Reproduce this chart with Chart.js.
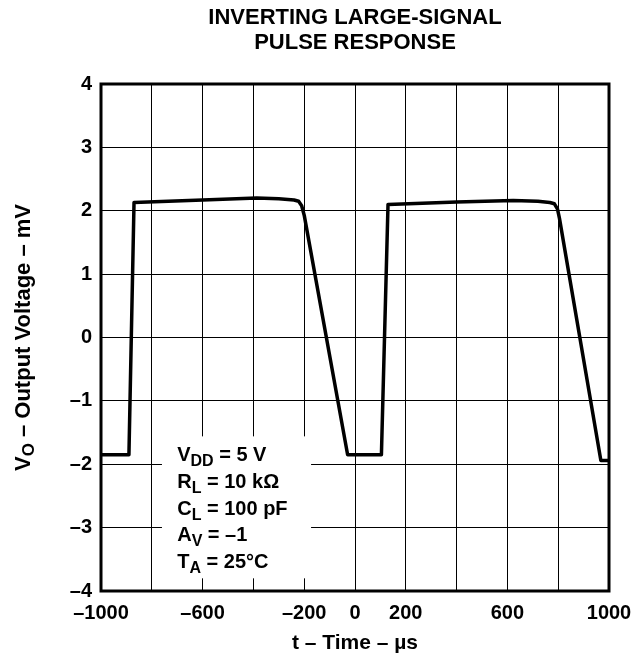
<!DOCTYPE html>
<html>
<head>
<meta charset="utf-8">
<title>Inverting Large-Signal Pulse Response</title>
<script src="https://cdn.jsdelivr.net/npm/chart.js@4"></script>
<style>
    html, body { margin: 0; padding: 0; background: #fff; }
</style>
</head>
<body>
<canvas id="pulseChart" width="637" height="656"></canvas>
<script>
// Data
const timeUs = [-1000, -890, -870, -600, -387, -300, -240, -222, -210, -200, -29, 104, 130, 400, 623, 720, 767, 785, 797, 805, 968, 1000];
const voltMv = [-1.85, -1.85, 2.13, 2.17, 2.20, 2.19, 2.17, 2.15, 2.08, 1.93, -1.85, -1.85, 2.10, 2.14, 2.16, 2.15, 2.13, 2.11, 2.03, 1.88, -1.94, -1.94];

const xTickLabels = [-1000, -600, -200, 0, 200, 600, 1000];
const yTicks = [-4, -3, -2, -1, 0, 1, 2, 3, 4];

const conditions = [
    ['V', 'DD', ' = 5 V'],
    ['R', 'L', ' = 10 k\u03A9'],
    ['C', 'L', ' = 100 pF'],
    ['A', 'V', ' = \u20131'],
    ['T', 'A', ' = 25\u00B0C']
];

const FONT = '"Liberation Sans", Arial, Helvetica, sans-serif';

function dash(v) {
    return v < 0 ? '\u2013' + Math.abs(v) : String(v);
}

// text with a subscript: main, sub, rest
function drawSubText(ctx, x, y, parts, size) {
    const subSize = Math.round(size * 0.78);
    ctx.font = 'bold ' + size + 'px ' + FONT;
    ctx.fillText(parts[0], x, y);
    x += ctx.measureText(parts[0]).width;
    ctx.font = 'bold ' + subSize + 'px ' + FONT;
    ctx.fillText(parts[1], x, y + size * 0.25);
    x += ctx.measureText(parts[1]).width;
    ctx.font = 'bold ' + size + 'px ' + FONT;
    ctx.fillText(parts[2], x, y);
}

const extras = {
    id: 'extras',
    beforeDatasetsDraw(chart) {
        const ctx = chart.ctx;
        const xs = chart.scales.x, ys = chart.scales.y;
        // white box behind the test conditions
        const left = xs.getPixelForValue(-760), right = xs.getPixelForValue(-173);
        const top = ys.getPixelForValue(-1.56), bottom = ys.getPixelForValue(-3.8);
        ctx.save();
        ctx.fillStyle = '#fff';
        ctx.fillRect(left, top, right - left, bottom - top);
        ctx.fillStyle = '#000';
        ctx.textBaseline = 'alphabetic';
        ctx.textAlign = 'left';
        const x0 = xs.getPixelForValue(-700);
        conditions.forEach((c, i) => {
            drawSubText(ctx, x0, 461 + i * 26.8, c, 20);
        });
        ctx.restore();
    },
    afterDraw(chart) {
        const ctx = chart.ctx;
        const a = chart.chartArea;
        ctx.save();
        ctx.strokeStyle = '#000';
        ctx.lineWidth = 3;
        ctx.strokeRect(a.left, a.top, a.right - a.left, a.bottom - a.top);
        // y axis title with subscript
        ctx.translate(24, (a.top + a.bottom) / 2);
        ctx.rotate(-Math.PI / 2);
        ctx.fillStyle = '#000';
        ctx.textBaseline = 'middle';
        const parts = ['V', 'O', ' \u2013 Output Voltage \u2013 mV'];
        const size = 22;
        ctx.font = 'bold ' + size + 'px ' + FONT;
        let w = ctx.measureText(parts[0]).width + ctx.measureText(parts[2]).width;
        ctx.font = 'bold ' + Math.round(size * 0.78) + 'px ' + FONT;
        w += ctx.measureText(parts[1]).width;
        ctx.textAlign = 'left';
        drawSubText(ctx, -w / 2, 0, parts, size);
        ctx.restore();
    }
};

new Chart(document.getElementById('pulseChart'), {
    type: 'scatter',
    data: {
        datasets: [{
            data: timeUs.map((t, i) => ({ x: t, y: voltMv[i] })),
            showLine: true,
            borderColor: '#000',
            borderWidth: 3.5,
            pointRadius: 0,
            tension: 0,
            borderJoinStyle: 'round'
        }]
    },
    options: {
        responsive: false,
        animation: false,
        devicePixelRatio: 1,
        layout: { padding: { left: 0, right: 28, top: 0, bottom: 0 } },
        plugins: {
            legend: { display: false },
            tooltip: { enabled: false },
            title: {
                display: true,
                fullSize: false,
                text: ['INVERTING LARGE-SIGNAL', 'PULSE RESPONSE'],
                color: '#000',
                font: { family: FONT, size: 22, weight: 'bold', lineHeight: '25px' },
                padding: { top: 5, bottom: 29 }
            }
        },
        scales: {
            x: {
                type: 'linear',
                min: -1000,
                max: 1000,
                afterFit(scale) {
                    scale.height = 65;
                    scale.paddingLeft = 0;
                    scale.paddingRight = 0;
                },
                border: { display: false },
                grid: { color: '#000', lineWidth: 1, drawTicks: false },
                ticks: {
                    stepSize: 200,
                    padding: 10,
                    color: '#000',
                    maxRotation: 0,
                    autoSkip: false,
                    font: { family: FONT, size: 20, weight: 'bold' },
                    callback: v => xTickLabels.includes(v) ? dash(v) : ''
                },
                title: {
                    display: true,
                    text: 't \u2013 Time \u2013 \u00B5s',
                    color: '#000',
                    font: { family: FONT, size: 21, weight: 'bold' },
                    padding: { top: 0, bottom: 0 }
                }
            },
            y: {
                type: 'linear',
                min: -4,
                max: 4,
                afterFit(scale) {
                    scale.width = 101;
                    scale.paddingTop = 0;
                    scale.paddingBottom = 0;
                },
                border: { display: false },
                grid: { color: '#000', lineWidth: 1, drawTicks: false },
                ticks: {
                    stepSize: 1,
                    padding: 9,
                    color: '#000',
                    font: { family: FONT, size: 20, weight: 'bold' },
                    callback: v => yTicks.includes(v) ? dash(v) : ''
                }
            }
        }
    },
    plugins: [extras]
});
</script>
</body>
</html>
